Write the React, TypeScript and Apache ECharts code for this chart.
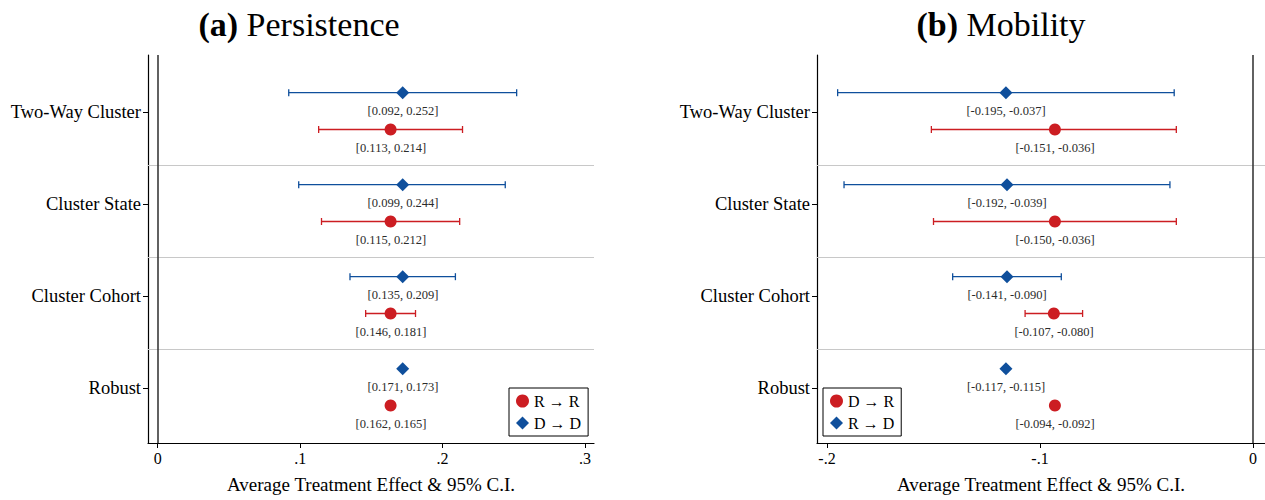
import React, { useEffect, useRef } from "react";
import * as echarts from "echarts";

const CATEGORIES = ["Two-Way Cluster", "Cluster State", "Cluster Cohort", "Robust"];
const CAT_POS = [4, 3, 2, 1];
const SEPARATORS = [3.42, 2.42, 1.42];

// Panel (a) Persistence
const P_RR_EST = [0.1635, 0.1635, 0.1635, 0.1635];
const P_RR_LO = [0.113, 0.115, 0.146, 0.162];
const P_RR_HI = [0.214, 0.212, 0.181, 0.165];
const P_DD_EST = [0.172, 0.172, 0.172, 0.172];
const P_DD_LO = [0.092, 0.099, 0.135, 0.171];
const P_DD_HI = [0.252, 0.244, 0.209, 0.173];
const P_TICKS = [0, 0.1, 0.2, 0.3];
const P_TICK_LABELS = ["0", ".1", ".2", ".3"];

// Panel (b) Mobility
const M_DR_EST = [-0.093, -0.093, -0.0935, -0.093];
const M_DR_LO = [-0.151, -0.15, -0.107, -0.094];
const M_DR_HI = [-0.036, -0.036, -0.08, -0.092];
const M_RD_EST = [-0.116, -0.1155, -0.1155, -0.116];
const M_RD_LO = [-0.195, -0.192, -0.141, -0.117];
const M_RD_HI = [-0.037, -0.039, -0.09, -0.115];
const M_TICKS = [-0.2, -0.1, 0];
const M_TICK_LABELS = ["-.2", "-.1", "0"];

const RED = "#cc1d22";
const BLUE = "#0f4f9c";
const FONT = "Liberation Serif";
const BLUE_OFF = 0.21;
const RED_OFF = -0.19;
const LABEL_GAP = 0.2;

const fmt = (v: number) => v.toFixed(3);

function ciSeries(name: string, lo: number[], hi: number[], off: number, color: string, axis: number) {
  return {
    type: "custom",
    name,
    xAxisIndex: axis,
    yAxisIndex: axis,
    z: 2,
    silent: true,
    encode: { x: [0, 1], y: 2 },
    data: lo.map((l, i) => [l, hi[i], CAT_POS[i] + off]),
    renderItem: (params: any, api: any) => {
      const y = api.value(2);
      const a = api.coord([api.value(0), y]);
      const b = api.coord([api.value(1), y]);
      const h = 3.5;
      const style = { stroke: color, lineWidth: 1.3 };
      return {
        type: "group",
        children: [
          { type: "line", shape: { x1: a[0], y1: a[1], x2: b[0], y2: b[1] }, style },
          { type: "line", shape: { x1: a[0], y1: a[1] - h, x2: a[0], y2: a[1] + h }, style },
          { type: "line", shape: { x1: b[0], y1: b[1] - h, x2: b[0], y2: b[1] + h }, style },
        ],
      };
    },
  };
}

function markerSeries(name: string, est: number[], off: number, color: string, symbol: string, size: any, axis: number) {
  return {
    type: "scatter",
    name,
    xAxisIndex: axis,
    yAxisIndex: axis,
    z: 5,
    symbol,
    symbolSize: size,
    itemStyle: { color, opacity: 1 },
    data: est.map((e, i) => [e, CAT_POS[i] + off]),
  };
}

function labelSeries(est: number[], lo: number[], hi: number[], off: number, axis: number) {
  return {
    type: "custom",
    xAxisIndex: axis,
    yAxisIndex: axis,
    z: 4,
    silent: true,
    encode: { x: 0, y: 1 },
    data: est.map((e, i) => [e, CAT_POS[i] + off - LABEL_GAP, lo[i], hi[i]]),
    renderItem: (params: any, api: any) => {
      const p = api.coord([api.value(0), api.value(1)]);
      return {
        type: "text",
        x: Math.round(p[0]),
        y: Math.round(p[1]),
        style: {
          text: `[${fmt(api.value(2))}, ${fmt(api.value(3))}]`,
          fill: "#2b2b2b",
          fontFamily: FONT,
          fontSize: 12.5,
          align: "center",
          verticalAlign: "middle",
        },
      };
    },
  };
}

function refLines(axis: number) {
  return {
    type: "scatter",
    xAxisIndex: axis,
    yAxisIndex: axis,
    data: [],
    silent: true,
    markLine: {
      silent: true,
      symbol: ["none", "none"],
      label: { show: false },
      animation: false,
      data: [
        ...SEPARATORS.map((s) => ({ yAxis: s, lineStyle: { color: "#c8c8c8", width: 1, type: "solid" } })),
        { xAxis: 0, lineStyle: { color: "#3a3a3a", width: 1.6, type: "solid" } },
      ],
    },
  };
}

function xAxisFor(grid: number, min: number, max: number, ticks: number[], labels: string[]) {
  return {
    type: "value",
    gridIndex: grid,
    min,
    max,
    splitLine: { show: false },
    axisLine: { show: true, onZero: false, lineStyle: { color: "#000", width: 1.2 } },
    axisTick: { show: true, customValues: ticks, length: 5, lineStyle: { color: "#000" } },
    axisLabel: {
      customValues: ticks,
      margin: 7,
      color: "#000",
      fontFamily: FONT,
      fontSize: 16,
      formatter: (v: number) => {
        const idx = ticks.findIndex((t) => Math.abs(t - v) < 1e-9);
        return idx >= 0 ? labels[idx] : "";
      },
    },
    name: "Average Treatment Effect & 95% C.I.",
    nameLocation: "middle",
    nameGap: 32,
    nameTextStyle: { color: "#000", fontFamily: FONT, fontSize: 19 },
  };
}

function yAxisFor(grid: number) {
  return {
    type: "value",
    gridIndex: grid,
    min: 0.4022,
    max: 4.6196,
    splitLine: { show: false },
    axisLine: { show: true, onZero: false, lineStyle: { color: "#000", width: 1.2 } },
    axisTick: { show: true, customValues: CAT_POS, length: 5, lineStyle: { color: "#000" } },
    axisLabel: {
      customValues: CAT_POS,
      margin: 7,
      color: "#000",
      fontFamily: FONT,
      fontSize: 18.5,
      formatter: (v: number) => {
        const idx = CAT_POS.findIndex((t) => Math.abs(t - v) < 1e-9);
        return idx >= 0 ? CATEGORIES[idx] : "";
      },
    },
  };
}

function legendFor(left: number, names: string[], icons: string[]) {
  return {
    orient: "vertical",
    left,
    top: 388,
    padding: [5, 7, 5, 7],
    itemGap: 6,
    itemWidth: 13,
    itemHeight: 13,
    borderColor: "#000",
    borderWidth: 1,
    borderRadius: 0,
    backgroundColor: "#fff",
    selectedMode: false,
    textStyle: { color: "#000", fontFamily: FONT, fontSize: 16 },
    data: names.map((n, i) => ({ name: n, icon: icons[i] })),
  };
}

function titleText(x: number, tag: string, rest: string) {
  return {
    type: "text",
    x,
    y: 24,
    style: {
      text: `{b|${tag}} ${rest}`,
      fontFamily: FONT,
      fontSize: 34,
      fill: "#000",
      align: "center",
      verticalAlign: "middle",
      rich: { b: { fontWeight: "bold", fontFamily: FONT, fontSize: 34, fill: "#000" } },
    },
  };
}

export default function App() {
  const ref = useRef<HTMLDivElement>(null);
  useEffect(() => {
    document.body.style.margin = "0";
    if (!ref.current) return;
    const chart = echarts.init(ref.current, null, { renderer: "svg" });
    const option: any = {
      animation: false,
      backgroundColor: "#fff",
      grid: [
        { left: 148, top: 55, width: 446, height: 388 },
        { left: 817, top: 55, width: 448, height: 388 },
      ],
      xAxis: [
        xAxisFor(0, -0.0068, 0.3063, P_TICKS, P_TICK_LABELS),
        xAxisFor(1, -0.20469, 0.00563, M_TICKS, M_TICK_LABELS),
      ],
      yAxis: [yAxisFor(0), yAxisFor(1)],
      legend: [
        legendFor(509, ["R → R", "D → D"], ["circle", "diamond"]),
        legendFor(823, ["D → R", "R → D"], ["circle", "diamond"]),
      ],
      graphic: [titleText(299, "(a)", "Persistence"), titleText(1001, "(b)", "Mobility")],
      series: [
        refLines(0),
        refLines(1),
        ciSeries("ci-rr", P_RR_LO, P_RR_HI, RED_OFF, RED, 0),
        ciSeries("ci-dd", P_DD_LO, P_DD_HI, BLUE_OFF, BLUE, 0),
        ciSeries("ci-dr", M_DR_LO, M_DR_HI, RED_OFF, RED, 1),
        ciSeries("ci-rd", M_RD_LO, M_RD_HI, BLUE_OFF, BLUE, 1),
        markerSeries("R → R", P_RR_EST, RED_OFF, RED, "circle", 12, 0),
        markerSeries("D → D", P_DD_EST, BLUE_OFF, BLUE, "diamond", 13, 0),
        markerSeries("D → R", M_DR_EST, RED_OFF, RED, "circle", 12, 1),
        markerSeries("R → D", M_RD_EST, BLUE_OFF, BLUE, "diamond", 13, 1),
        labelSeries(P_RR_EST, P_RR_LO, P_RR_HI, RED_OFF, 0),
        labelSeries(P_DD_EST, P_DD_LO, P_DD_HI, BLUE_OFF, 0),
        labelSeries(M_DR_EST, M_DR_LO, M_DR_HI, RED_OFF, 1),
        labelSeries(M_RD_EST, M_RD_LO, M_RD_HI, BLUE_OFF, 1),
      ],
    };
    chart.setOption(option);
    return () => chart.dispose();
  }, []);
  return <div ref={ref} style={{ width: 1265, height: 500 }} />;
}
